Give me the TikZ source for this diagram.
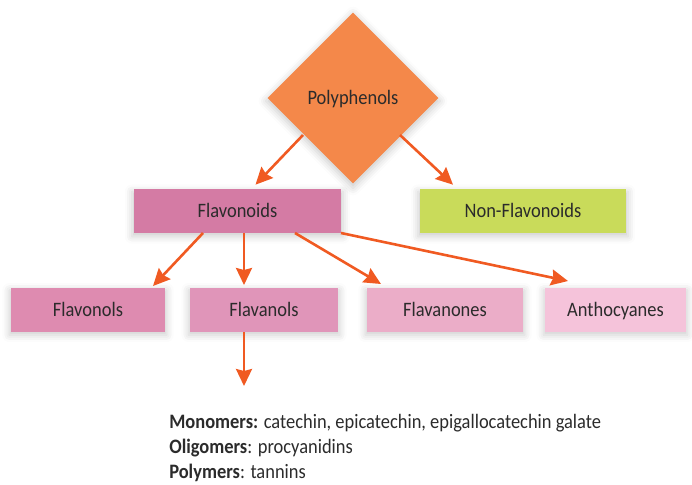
\documentclass[tikz,border=0pt]{standalone}
\usepackage{fontspec}
\setmainfont{Carlito}[FakeStretch=0.9]
\usepackage{tikz}
\usetikzlibrary{arrows.meta,shapes.geometric,shadows.blur}

\definecolor{polyorange}{HTML}{F4884A}
\definecolor{arroworange}{HTML}{F05A22}
\definecolor{flavopink}{HTML}{D47BA4}
\definecolor{nonflavo}{HTML}{C9DB5A}
\definecolor{pinkA}{HTML}{DE8BB0}
\definecolor{pinkB}{HTML}{E095B9}
\definecolor{pinkC}{HTML}{EBADC8}
\definecolor{pinkD}{HTML}{F5C3DA}
\definecolor{txtgray}{HTML}{2B2B2B}

\begin{document}
\begin{tikzpicture}[x=1pt,y=-1pt,->,>={Stealth[length=17pt,width=16pt,inset=2pt]},
                    line width=2.6pt,draw=arroworange]
\tikzstyle{every node}=[text=txtgray,font=\fontsize{20.5}{25}\selectfont]
\tikzstyle{glow}=[blur shadow={shadow xshift=0pt,shadow yshift=-3pt,
                  shadow blur radius=7pt,shadow opacity=20,shadow scale=1.02}]
\tikzstyle{capsmid}=[text height=13pt,text depth=0pt]
\tikzstyle{box}=[rectangle,glow,capsmid,inner sep=0pt,minimum height=44pt]
\useasboundingbox (0,0) rectangle (692,484);

\node[diamond,glow,capsmid,fill=polyorange,minimum width=172pt,minimum height=172pt,
      inner sep=0pt] (POLY) at (353,98) {Polyphenols};
\node[box,fill=flavopink,minimum width=207pt] (FLAV) at (237.5,211) {Flavonoids};
\node[box,fill=nonflavo,minimum width=206pt] (NONF) at (523,211) {Non-Flavonoids};
\node[box,fill=pinkA,minimum width=154pt] (FOLS) at (88,309.5) {Flavonols};
\node[box,fill=pinkB,minimum width=148pt] (FAOLS) at (264,309.5) {Flavanols};
\node[box,fill=pinkC,minimum width=156pt] (FONES) at (445,309.5) {Flavanones};
\node[box,fill=pinkD,minimum width=141pt] (ANTH) at (615.5,309.5) {Anthocyanes};
\coordinate (END) at (244,386);

\node[anchor=west,align=left,inner sep=0pt] (LIST) at (168,448)
  {\textbf{Monomers:} catechin, epicatechin, epigallocatechin galate\\
   \textbf{Oligomers}: procyanidins\\
   \textbf{Polymers}: tannins};

\path ([shift={(-50,0)}]POLY.center |- 0,135) edge ([shift={(18,-3)}]FLAV.north)
      ([shift={(47,0)}]POLY.center |- 0,135) edge ([shift={(-70,-3)}]NONF.north)
      (203,233) edge (153,286)
      (244,233) edge (244,285)
      (295,233) edge (381,284)
      (341,233) edge (568,281)
      (244,332) edge (END);
\end{tikzpicture}
\end{document}
